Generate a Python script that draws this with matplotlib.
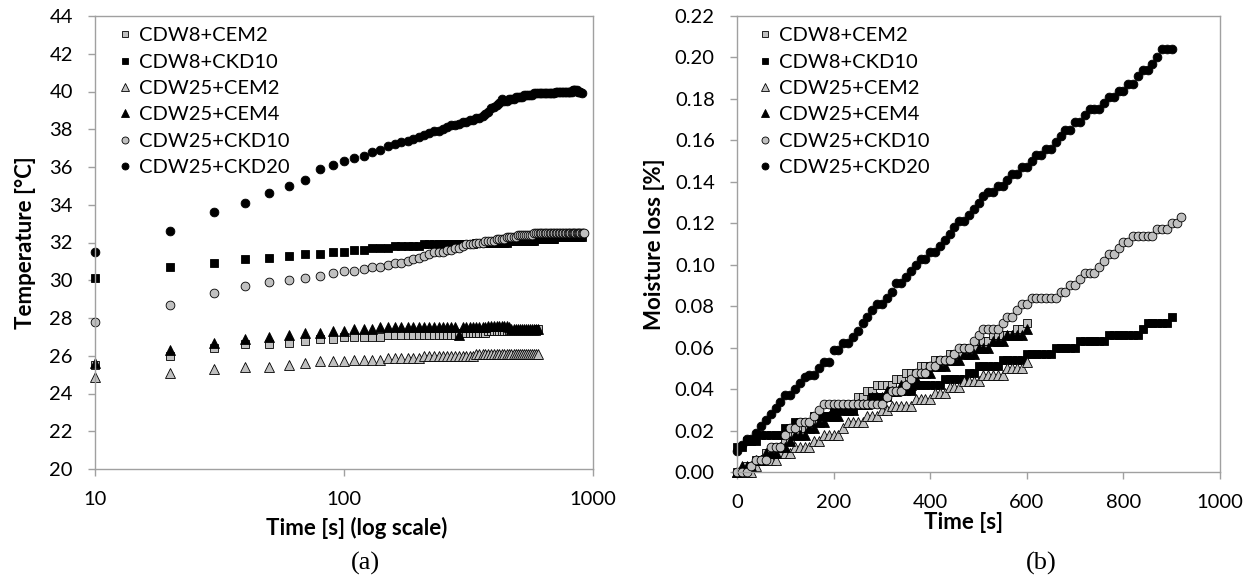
import matplotlib
matplotlib.use("Agg")
import matplotlib.pyplot as plt
import numpy as np

plt.rcParams['font.family'] = ['Lato', 'DejaVu Sans']

labels = ['CDW8+CEM2', 'CDW8+CKD10', 'CDW25+CEM2', 'CDW25+CEM4', 'CDW25+CKD10', 'CDW25+CKD20']

# ---- (a) temperature, sampled every 10 s from 10 s
t_a600 = np.arange(10, 610, 10)
t_a900 = np.arange(10, 910, 10)
t_a920 = np.arange(10, 930, 10)

temp_cdw8_cem2 = [25.5, 26.0, 26.4, 26.6, 26.6, 26.7, 26.8, 26.9, 26.9, 27.0,
                  27.0, 27.0, 27.0, 27.0, 27.1, 27.1, 27.1, 27.1, 27.1, 27.1,
                  27.1, 27.1, 27.1, 27.1, 27.1, 27.1, 27.1, 27.1, 27.2, 27.2,
                  27.2, 27.2, 27.2, 27.2, 27.2, 27.2, 27.2, 27.3, 27.3, 27.3,
                  27.3, 27.3, 27.3, 27.3, 27.3, 27.3, 27.3, 27.3, 27.3, 27.3,
                  27.3, 27.3, 27.3, 27.3, 27.3, 27.3, 27.3, 27.3, 27.3, 27.4]
temp_cdw8_ckd10 = [30.1, 30.7, 30.9, 31.1, 31.2, 31.3, 31.4, 31.4, 31.5, 31.5,
                   31.6, 31.6, 31.7, 31.7, 31.7, 31.8, 31.8, 31.8, 31.8, 31.8,
                   31.9, 31.9, 31.9, 31.9, 31.9, 31.9, 31.9, 31.9, 31.9, 31.9,
                   31.9, 31.9, 31.9, 32.0, 32.0, 32.0, 32.0, 32.0, 32.0, 32.0,
                   32.0, 32.0, 32.0, 32.0, 32.0, 32.1, 32.1, 32.1, 32.1, 32.1,
                   32.1, 32.1, 32.1, 32.1, 32.1, 32.1, 32.1, 32.1, 32.2, 32.2,
                   32.2, 32.2, 32.2, 32.2, 32.2, 32.2, 32.2, 32.2, 32.2, 32.2,
                   32.3, 32.3, 32.3, 32.3, 32.3, 32.3, 32.3, 32.3, 32.3, 32.3,
                   32.3, 32.3, 32.3, 32.3, 32.3, 32.3, 32.3, 32.3, 32.3, 32.3]
temp_cdw25_cem2 = [24.9, 25.1, 25.3, 25.4, 25.4, 25.5, 25.6, 25.7, 25.7, 25.7,
                   25.8, 25.8, 25.8, 25.8, 25.9, 25.9, 25.9, 25.9, 25.9, 25.9,
                   26.0, 26.0, 26.0, 26.0, 26.0, 26.0, 26.0, 26.0, 26.0, 26.0,
                   26.0, 26.0, 26.0, 26.1, 26.1, 26.1, 26.1, 26.1, 26.1, 26.1,
                   26.1, 26.1, 26.1, 26.1, 26.1, 26.1, 26.1, 26.1, 26.1, 26.1,
                   26.1, 26.1, 26.1, 26.1, 26.1, 26.1, 26.1, 26.1, 26.1, 26.1]
temp_cdw25_cem4 = [25.6, 26.3, 26.7, 26.9, 27.0, 27.1, 27.2, 27.2, 27.3, 27.3,
                   27.4, 27.4, 27.4, 27.5, 27.5, 27.5, 27.5, 27.5, 27.5, 27.5,
                   27.5, 27.5, 27.5, 27.5, 27.5, 27.5, 27.5, 27.5, 27.1, 27.5,
                   27.5, 27.5, 27.5, 27.5, 27.5, 27.5, 27.5, 27.6, 27.6, 27.6,
                   27.6, 27.6, 27.6, 27.6, 27.6, 27.5, 27.4, 27.4, 27.4, 27.4,
                   27.4, 27.4, 27.4, 27.4, 27.4, 27.4, 27.4, 27.4, 27.4, 27.4]
temp_cdw25_ckd10 = [27.8, 28.7, 29.3, 29.7, 29.9, 30.0, 30.1, 30.2, 30.4, 30.5,
                    30.5, 30.6, 30.7, 30.7, 30.8, 30.9, 30.9, 31.0, 31.1, 31.2,
                    31.3, 31.4, 31.5, 31.5, 31.5, 31.6, 31.6, 31.7, 31.7, 31.8,
                    31.9, 31.9, 31.9, 32.0, 32.0, 32.0, 32.1, 32.1, 32.1, 32.1,
                    32.2, 32.2, 32.2, 32.2, 32.3, 32.3, 32.3, 32.3, 32.3, 32.4,
                    32.4, 32.4, 32.4, 32.4, 32.4, 32.4, 32.4, 32.5, 32.5, 32.5,
                    32.5, 32.5, 32.5, 32.5, 32.5, 32.5, 32.5, 32.5, 32.5, 32.5,
                    32.5, 32.5, 32.5, 32.5, 32.5, 32.5, 32.5, 32.5, 32.5, 32.5,
                    32.5, 32.5, 32.5, 32.5, 32.5, 32.5, 32.5, 32.5, 32.5, 32.5,
                    32.5, 32.5]
temp_cdw25_ckd20 = [31.5, 32.6, 33.6, 34.1, 34.6, 35.0, 35.3, 35.9, 36.1, 36.3,
                    36.5, 36.6, 36.8, 36.9, 37.1, 37.2, 37.3, 37.4, 37.5, 37.6,
                    37.7, 37.8, 37.9, 37.9, 38.0, 38.1, 38.2, 38.2, 38.3, 38.4,
                    38.4, 38.5, 38.5, 38.6, 38.6, 38.7, 38.8, 38.9, 39.1, 39.2,
                    39.3, 39.4, 39.6, 39.5, 39.5, 39.6, 39.6, 39.6, 39.7, 39.7,
                    39.7, 39.7, 39.8, 39.8, 39.8, 39.8, 39.8, 39.9, 39.9, 39.9,
                    39.9, 39.9, 39.9, 39.9, 39.9, 39.9, 39.9, 39.9, 39.9, 39.9,
                    40.0, 40.0, 40.0, 40.0, 40.0, 40.0, 40.0, 40.0, 40.0, 40.0,
                    40.0, 40.0, 40.1, 40.1, 40.1, 40.1, 40.0, 40.0, 40.0, 39.9]

# ---- (b) moisture loss, sampled every 10 s from 0 s
t_b600 = np.arange(0, 610, 10)
t_b900 = np.arange(0, 910, 10)
t_b920 = np.arange(0, 930, 10)

ml_cdw8_cem2 = [.000, .000, .003, .003, .006, .006, .009, .009, .012, .012,
                .015, .015, .018, .018, .021, .021, .024, .024, .027, .027,
                .030, .030, .030, .033, .033, .036, .036, .039, .039, .042,
                .042, .042, .042, .045, .045, .048, .048, .048, .051, .051,
                .051, .054, .054, .054, .057, .057, .057, .060, .060, .060,
                .063, .063, .063, .066, .066, .066, .066, .066, .069, .069,
                .072]
ml_cdw8_ckd10 = [.012, .012, .015, .015, .015, .018, .018, .018, .018, .018,
                 .021, .021, .024, .024, .024, .024, .027, .027, .027, .027,
                 .030, .030, .030, .030, .030, .033, .033, .033, .036, .036,
                 .036, .036, .039, .039, .039, .039, .039, .042, .042, .042,
                 .042, .042, .042, .045, .045, .045, .045, .045, .048, .048,
                 .051, .051, .051, .051, .051, .054, .054, .054, .054, .054,
                 .057, .057, .057, .057, .057, .057, .060, .060, .060, .060,
                 .060, .063, .063, .063, .063, .063, .063, .066, .066, .066,
                 .066, .066, .066, .066, .069, .072, .072, .072, .072, .072,
                 .075]
ml_cdw25_cem2 = [.000, .000, .000, .000, .003, .006, .006, .006, .006, .009,
                 .009, .009, .012, .012, .012, .012, .015, .015, .018, .018,
                 .018, .018, .021, .024, .024, .024, .024, .027, .027, .027,
                 .030, .030, .032, .032, .032, .032, .032, .035, .035, .035,
                 .035, .038, .038, .038, .041, .041, .041, .044, .044, .044,
                 .044, .047, .047, .047, .047, .047, .050, .050, .050, .050,
                 .053]
ml_cdw25_cem4 = [.000, .003, .003, .003, .006, .006, .009, .009, .009, .012,
                 .012, .015, .018, .018, .018, .021, .021, .024, .024, .027,
                 .027, .027, .030, .030, .030, .033, .033, .033, .036, .036,
                 .036, .039, .039, .039, .042, .042, .042, .045, .048, .048,
                 .048, .051, .051, .051, .054, .054, .054, .057, .057, .057,
                 .060, .060, .060, .063, .063, .063, .066, .066, .066, .066,
                 .069]
ml_cdw25_ckd10 = [.000, .000, .000, .003, .006, .006, .006, .012, .012, .012,
                  .018, .021, .021, .024, .024, .024, .027, .030, .033, .033,
                  .033, .033, .033, .033, .033, .033, .033, .033, .033, .033,
                  .033, .036, .039, .039, .039, .042, .045, .048, .048, .048,
                  .051, .051, .054, .054, .054, .057, .060, .060, .060, .063,
                  .066, .069, .069, .069, .069, .072, .075, .075, .078, .081,
                  .081, .084, .084, .084, .084, .084, .084, .087, .087, .090,
                  .090, .093, .096, .096, .096, .099, .102, .105, .105, .108,
                  .111, .111, .114, .114, .114, .114, .114, .117, .117, .117,
                  .120, .120, .123]
ml_cdw25_ckd20 = [.010, .013, .016, .016, .019, .022, .025, .028, .031, .034,
                  .037, .037, .040, .043, .046, .047, .047, .050, .053, .053,
                  .059, .059, .062, .062, .065, .068, .072, .075, .078, .081,
                  .081, .084, .087, .091, .091, .094, .097, .100, .103, .103,
                  .106, .106, .109, .112, .115, .118, .121, .121, .124, .127,
                  .130, .133, .135, .135, .138, .138, .141, .144, .144, .147,
                  .147, .150, .153, .153, .156, .156, .159, .162, .165, .165,
                  .169, .169, .172, .175, .175, .175, .178, .181, .181, .184,
                  .184, .187, .187, .191, .194, .194, .197, .200, .204, .204,
                  .204]

gray = '#c0c0c0'
styles = [dict(marker='s', mfc=gray, ms=5.8),
          dict(marker='s', mfc='black', ms=5.8),
          dict(marker='^', mfc=gray, ms=6.8),
          dict(marker='^', mfc='black', ms=6.8),
          dict(marker='o', mfc=gray, ms=6.3),
          dict(marker='o', mfc='black', ms=6.3)]

fig = plt.figure(figsize=(12.54, 5.83), dpi=100)
ax1 = fig.add_axes([95/1254, 1-469/583, 498/1254, 453/583])
ax2 = fig.add_axes([737/1254, 1-472/583, 483/1254, 456/583])

series_a = [(t_a600, temp_cdw8_cem2), (t_a900, temp_cdw8_ckd10), (t_a600, temp_cdw25_cem2),
            (t_a600, temp_cdw25_cem4), (t_a920, temp_cdw25_ckd10), (t_a900, temp_cdw25_ckd20)]
series_b = [(t_b600, ml_cdw8_cem2), (t_b900, ml_cdw8_ckd10), (t_b600, ml_cdw25_cem2),
            (t_b600, ml_cdw25_cem4), (t_b920, ml_cdw25_ckd10), (t_b900, ml_cdw25_ckd20)]

for ax, series, lx in [(ax1, series_a, 0.024), (ax2, series_b, 0.02)]:
    for (x, y), st, lab in zip(series, styles, labels):
        ax.plot(x, y, linestyle='none', marker=st['marker'], markersize=st['ms'],
                markerfacecolor=st['mfc'], markeredgecolor='black', markeredgewidth=0.6,
                label=lab, clip_on=False)
    for s in ax.spines.values():
        s.set_color('#a0a0a0')
        s.set_linewidth(1.0)
    ax.tick_params(direction='out', length=5, width=1, color='#a0a0a0',
                   labelsize=14.5, pad=11)
    ax.legend(loc='upper left', bbox_to_anchor=(lx, 0.993), frameon=False, fontsize=14.5,
              handletextpad=0.2, labelspacing=0.46, borderaxespad=0.0, borderpad=0.4,
              handlelength=1.0, markerscale=0.8)

ax1.set_xscale('log')
ax1.set_xlim(10, 1000)
ax1.set_xticks([10, 100, 1000])
ax1.set_xticklabels(['10', '100', '1000'])
ax1.xaxis.set_minor_locator(matplotlib.ticker.NullLocator())
ax1.set_ylim(20, 44)
ax1.set_yticks(np.arange(20, 45, 2))
ax1.set_xlabel('Time [s] (log scale)', fontsize=16, fontweight='bold')
ax1.set_ylabel('Temperature [°C]', fontsize=16, fontweight='bold')
ax1.xaxis.set_label_coords(0.526, -0.13)
ax1.xaxis.label.set_va('center')
ax1.yaxis.set_label_coords(-0.14, 0.5)
ax1.yaxis.label.set_va('center')

ax2.set_xlim(0, 1000)
ax2.set_xticks(np.arange(0, 1001, 200))
ax2.set_ylim(0, 0.22)
ax2.set_yticks(np.arange(0, 0.221, 0.02))
ax2.yaxis.set_major_formatter(matplotlib.ticker.FormatStrFormatter('%.2f'))
ax2.set_xlabel('Time [s]', fontsize=16, fontweight='bold')
ax2.set_ylabel('Moisture loss [%]', fontsize=16, fontweight='bold')
ax2.xaxis.set_label_coords(0.47, -0.11)
ax2.xaxis.label.set_va('center')
ax2.yaxis.set_label_coords(-0.17, 0.5)
ax2.yaxis.label.set_va('center')

fig.text(365/1254, 1-563/583, '(a)', family='Liberation Serif', fontsize=19, ha='center', va='center')
fig.text(1041/1254, 1-563/583, '(b)', family='Liberation Serif', fontsize=19, ha='center', va='center')

fig.savefig('out.png', dpi=100)
